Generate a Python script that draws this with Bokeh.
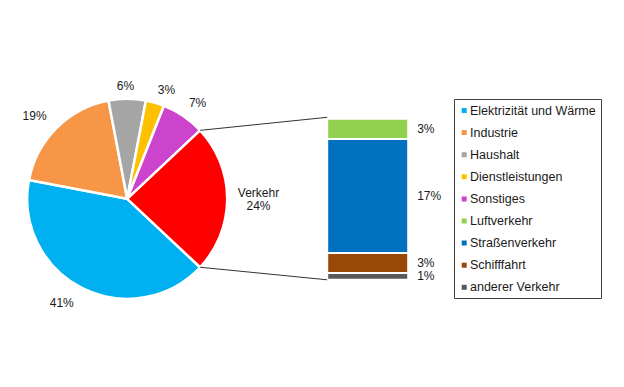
import numpy as np
from bokeh.plotting import figure
from bokeh.models import Range1d, ColumnDataSource
from bokeh.core.properties import value
from bokeh.embed import file_html
from bokeh.resources import INLINE

# ---------------- data ----------------
pie_categories = ["Elektrizität und Wärme", "Industrie", "Haushalt",
                  "Dienstleistungen", "Sonstiges", "Verkehr"]
pie_values = [41, 19, 6, 3, 7, 24]
pie_colors = ["#00B0F0", "#F79646", "#A5A5A5", "#FFC000", "#CC44CC", "#FF0000"]

bar_categories = ["Luftverkehr", "Straßenverkehr", "Schifffahrt", "anderer Verkehr"]
bar_values = [3, 17, 3, 1]
bar_colors = ["#92D050", "#0070C0", "#984807", "#595959"]

# ---------------- layout (pixel units, y up) ----------------
W, H = 608, 371
FONT = value("Liberation Sans")
TXT = "#1a1a1a"
cx, cy, R = 118.7, 180.7, 100.0
# label placement tweaks (radius, angle nudge in degrees) per pie slice
lab_r = [122.8, 124.1, 113.3, 116.0, 118.6, 131.3]
lab_da = [-5.2, 3.3, 0.9, -3.6, -2.2, -0.3]

bar_left, bar_right = 318.7, 399.7
bar_bottom, bar_total_px = 99.7, 161.0

p = figure(width=W, height=H, x_range=Range1d(-8, W - 8), y_range=Range1d(8, H + 8),
           output_backend="svg", toolbar_location=None, min_border=0,
           x_axis_location=None, y_axis_location=None)
p.grid.visible = False
p.outline_line_color = None
p.background_fill_color = "white"

# ---------------- pie ----------------
total = float(sum(pie_values))
n = len(pie_values)
# Verkehr centred on 3 o'clock, remaining slices counter-clockwise in reverse order
order_ccw = list(range(n - 1, -1, -1))
start = -np.pi * pie_values[-1] / total
starts = [0.0] * n
ends = [0.0] * n
a = start
for i in order_ccw:
    starts[i] = a
    a += 2 * np.pi * pie_values[i] / total
    ends[i] = a

src = ColumnDataSource(dict(start=starts, end=ends, color=pie_colors, name=pie_categories))
p.wedge(x=cx, y=cy, radius=R, start_angle="start", end_angle="end",
        fill_color="color", line_color="white", line_width=2.5, source=src)

# pie labels
for i in range(n):
    mid = (starts[i] + ends[i]) / 2 + np.deg2rad(lab_da[i])
    lx = cx + lab_r[i] * np.cos(mid)
    ly = cy + lab_r[i] * np.sin(mid)
    pct = f"{pie_values[i]}%"
    if i == n - 1:
        p.text(x=[lx], y=[ly + 6.8], text=[pie_categories[i]], text_align="center",
               text_baseline="middle", text_font=FONT, text_font_size="12px", text_color=TXT)
        p.text(x=[lx], y=[ly - 6.8], text=[pct], text_align="center",
               text_baseline="middle", text_font=FONT, text_font_size="12px", text_color=TXT)
    else:
        p.text(x=[lx], y=[ly], text=[pct], text_align="center",
               text_baseline="middle", text_font=FONT, text_font_size="12px", text_color=TXT)

# ---------------- stacked bar ----------------
scale = bar_total_px / sum(bar_values)
bottoms, tops = [], []
b = bar_bottom
for v in reversed(bar_values):
    bottoms.insert(0, b)
    b += v * scale
    tops.insert(0, b)
bsrc = ColumnDataSource(dict(bottom=bottoms, top=tops, color=bar_colors, name=bar_categories))
p.quad(left=bar_left, right=bar_right, bottom="bottom", top="top",
       fill_color="color", line_color="white", line_width=2, source=bsrc)

for v, bt, tp in zip(bar_values, bottoms, tops):
    p.text(x=[bar_right + 9], y=[(bt + tp) / 2], text=[f"{v}%"], text_align="left",
           text_baseline="middle", text_font=FONT, text_font_size="12px", text_color=TXT)

# connector lines
a_top = ends[-1]
a_bot = starts[-1]
bar_top = bar_bottom + bar_total_px
p.segment(x0=[cx + R * np.cos(a_top), cx + R * np.cos(a_bot)],
          y0=[cy + R * np.sin(a_top), cy + R * np.sin(a_bot)],
          x1=[bar_left, bar_left], y1=[bar_top + 1.5, bar_bottom],
          line_color="#333333", line_width=1)

# ---------------- legend ----------------
leg_left, leg_right, leg_top, leg_bottom = 446, 593, 280, 81
p.quad(left=[leg_left], right=[leg_right], top=[leg_top], bottom=[leg_bottom],
       fill_color=None, line_color="#404040", line_width=1)
leg_names = pie_categories[:-1] + bar_categories
leg_cols = pie_colors[:-1] + bar_colors
step = 22.1
ys = [leg_top - 11 - step * k for k in range(len(leg_names))]
p.scatter(x=[leg_left + 9.7] * len(ys), y=ys, marker="square", size=5,
          fill_color=leg_cols, line_color=None)
p.text(x=[leg_left + 15.5] * len(ys), y=ys, text=leg_names, text_align="left",
       text_baseline="middle", text_font=FONT, text_font_size="12.5px", text_color=TXT)

open("out.html", "w").write(file_html(p, INLINE))
